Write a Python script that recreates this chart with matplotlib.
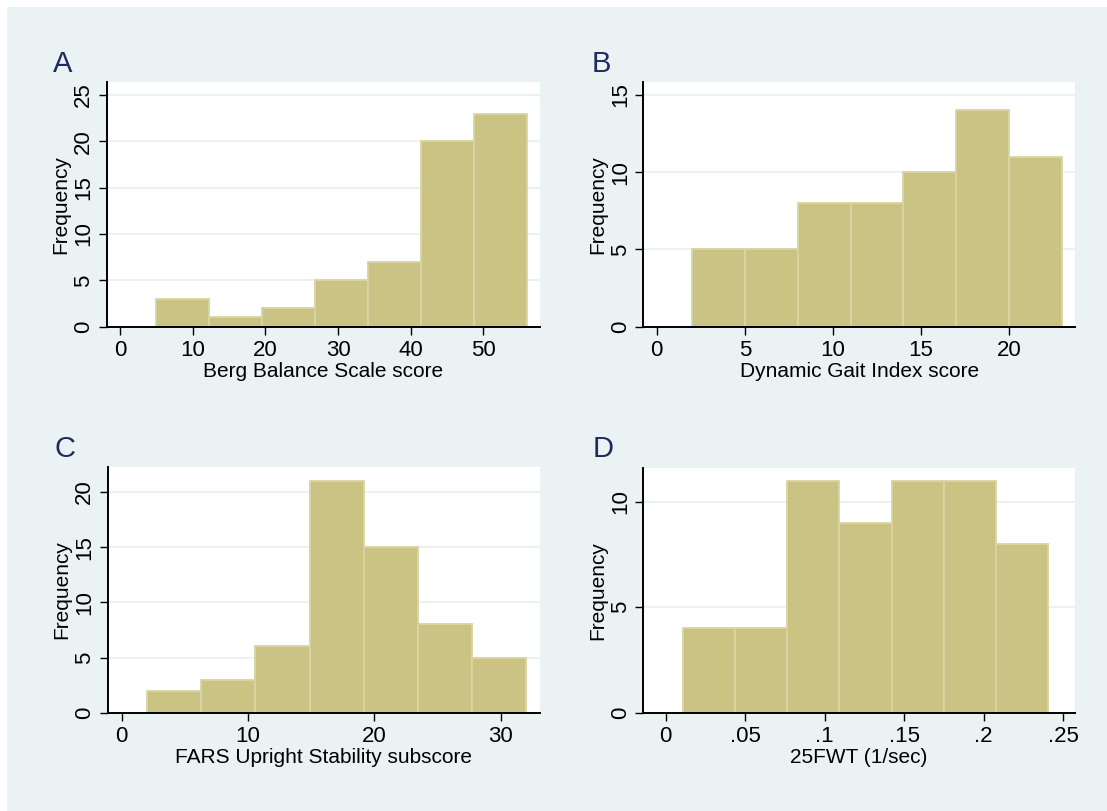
import numpy as np
import matplotlib
matplotlib.use("Agg")
import matplotlib.pyplot as plt
from matplotlib.patches import Rectangle

plt.rcParams['font.family'] = ['Liberation Sans', 'DejaVu Sans']

# histogram data (bin edges + counts)
berg_edges = [5, 12.29, 19.57, 26.86, 34.14, 41.43, 48.71, 56]
berg_counts = [3, 1, 2, 5, 7, 20, 23]
dgi_edges = [2, 5, 8, 11, 14, 17, 20, 23]
dgi_counts = [5, 5, 8, 8, 10, 14, 11]
fars_edges = [2, 6.29, 10.57, 14.86, 19.14, 23.43, 27.71, 32]
fars_counts = [2, 3, 6, 21, 15, 8, 5]
fwt_edges = [0.0107, 0.04355, 0.0764, 0.10925, 0.1421, 0.17495, 0.2078, 0.24065]
fwt_counts = [4, 4, 11, 9, 11, 11, 8]

berg_xticks = [0, 10, 20, 30, 40, 50]
dgi_xticks = [0, 5, 10, 15, 20]
fars_xticks = [0, 10, 20, 30]
fwt_xticks = [0, 0.05, 0.1, 0.15, 0.2, 0.25]
fwt_xlabels = ["0", ".05", ".1", ".15", ".2", ".25"]

W, H = 1107, 811
BG = '#EAF2F3'
BAR = '#CBC384'
EDGE = '#DAD4A2'
NAVY = '#1E2B5C'

fig = plt.figure(figsize=(W / 100, H / 100), dpi=100, facecolor='white')
fig.patches.append(Rectangle((7 / W, 0), 1 - 7 / W, 1 - 7 / H, transform=fig.transFigure,
                             facecolor=BG, edgecolor='none', zorder=-10))


def px_axes(l, r, t, b):
    return fig.add_axes([l / W, 1 - b / H, (r - l) / W, (b - t) / H])


panels = [
    # letter, box(l, r, t, b), letter pos, edges, counts, xticks, xlabels, yticks, xlim, ylim, title
    ("A", (106.7, 540, 82, 326.7), (53, 72), berg_edges, berg_counts, berg_xticks, None,
     [0, 5, 10, 15, 20, 25], (-1.83, 57.8), (0, 26.4), "Berg Balance Scale score"),
    ("B", (643.3, 1075, 82, 326.7), (592, 72), dgi_edges, dgi_counts, dgi_xticks, None,
     [0, 5, 10, 15], (-0.76, 23.73), (0, 15.84), "Dynamic Gait Index score"),
    ("C", (107.7, 540, 467, 712.7), (55, 457), fars_edges, fars_counts, fars_xticks, None,
     [0, 5, 10, 15, 20], (-1.11, 33.1), (0, 22.26), "FARS Upright Stability subscore"),
    ("D", (643.3, 1075, 467.7, 712.7), (593, 457), fwt_edges, fwt_counts, fwt_xticks, fwt_xlabels,
     [0, 5, 10], (-0.0141, 0.2574), (0, 11.61), "25FWT (1/sec)"),
]

for letter, box, lpos, edges, counts, xt, xl, yt, xlim, ylim, title in panels:
    ax = px_axes(*box)
    ax.set_facecolor('white')
    edges = np.array(edges)
    ax.bar(edges[:-1], counts, width=np.diff(edges), align='edge',
           color=BAR, edgecolor=EDGE, linewidth=1.3, zorder=2)
    ax.set_xlim(*xlim)
    ax.set_ylim(*ylim)
    ax.set_xticks(xt)
    if xl is not None:
        ax.set_xticklabels(xl)
    ax.set_yticks(yt)
    ax.yaxis.grid(True, color=BG, linewidth=1.5)
    ax.set_axisbelow(True)
    for s in ['top', 'right']:
        ax.spines[s].set_visible(False)
    for s in ['left', 'bottom']:
        ax.spines[s].set_linewidth(1.4)
        ax.spines[s].set_zorder(3)
    ax.tick_params(axis='both', length=6, width=1.0, labelsize=16, color='black')
    ax.tick_params(axis='x', pad=3.5)
    ax.tick_params(axis='y', pad=3, labelrotation=90)
    for lab in ax.get_yticklabels():
        lab.set_verticalalignment('center')
    ax.set_xlabel(title, fontsize=15)
    ax.xaxis.set_label_coords(0.5, -0.145)
    ax.set_ylabel("Frequency", fontsize=15)
    ax.yaxis.set_label_coords(-36 / (box[1] - box[0]), 0.5)
    fig.text(lpos[0] / W, 1 - lpos[1] / H, letter, fontsize=21, color=NAVY,
             ha='left', va='baseline')

fig.savefig("out.png", dpi=100, facecolor=fig.get_facecolor())
